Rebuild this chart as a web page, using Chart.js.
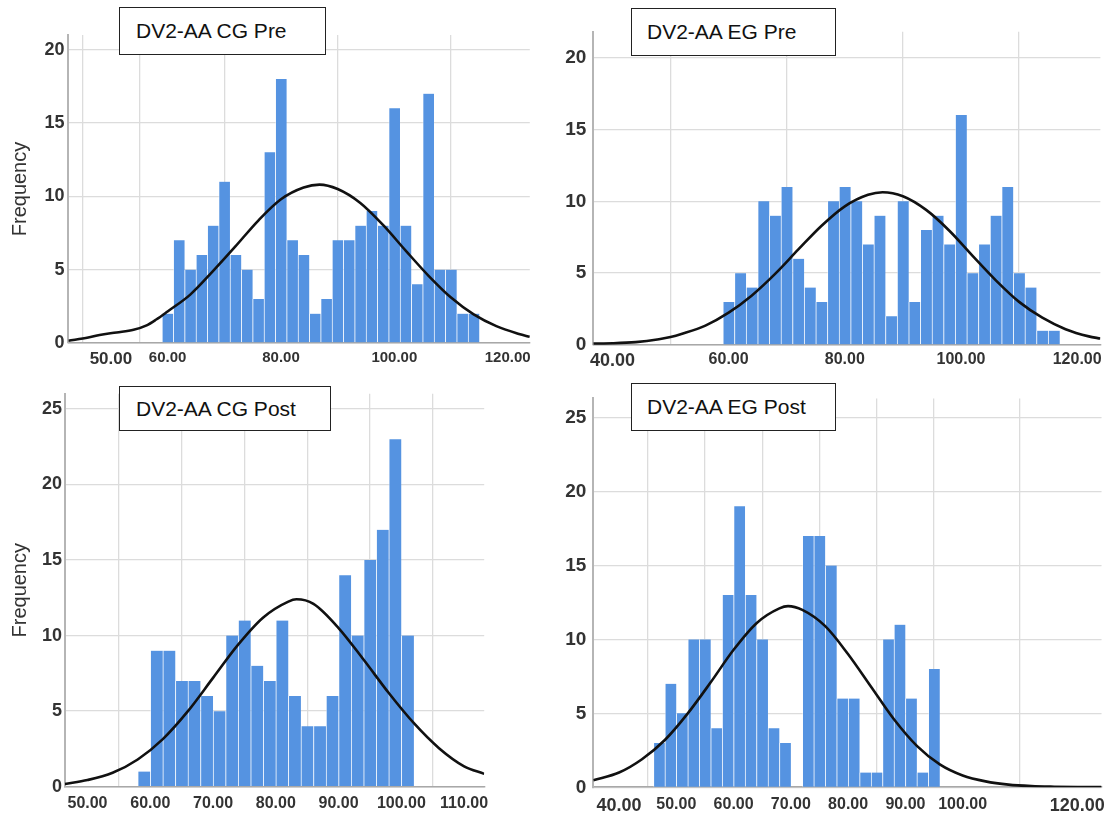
<!DOCTYPE html>
<html>
<head>
<meta charset="utf-8">
<title>DV2-AA histograms</title>
<script src="https://cdn.jsdelivr.net/npm/chart.js@4.4.1/dist/chart.umd.min.js"></script>
<style>
  body { margin:0; background:#fff; width:1113px; height:816px; overflow:hidden; position:relative;
         font-family:'Liberation Sans', Arial, sans-serif; }
  .panel { position:absolute; }
  .tag { position:absolute; background:#fff; border:1px solid #222; font-size:21px; color:#111;
         display:flex; align-items:center; box-sizing:border-box; z-index:2; white-space:nowrap; }
</style>
</head>
<body>
<div class="panel" style="left:0;top:0;width:545px;height:380px"><canvas id="cgPre"></canvas></div>
<div class="panel" style="left:556px;top:0;width:557px;height:380px"><canvas id="egPre"></canvas></div>
<div class="panel" style="left:0;top:380px;width:545px;height:436px"><canvas id="cgPost"></canvas></div>
<div class="panel" style="left:556px;top:380px;width:557px;height:436px"><canvas id="egPost"></canvas></div>

<div class="tag" style="left:119px;top:7px;width:207px;height:48px;padding-left:16px">DV2-AA CG Pre</div>
<div class="tag" style="left:631px;top:8px;width:205px;height:48px;padding-left:15px">DV2-AA EG Pre</div>
<div class="tag" style="left:119px;top:386px;width:212px;height:45px;padding-left:16px">DV2-AA CG Post</div>
<div class="tag" style="left:631px;top:383px;width:205px;height:48px;padding-left:15px">DV2-AA EG Post</div>

<script>
// bin centres (width 2) and frequencies
const cgPreBins   = [60,62,64,66,68,70,72,74,76,78,80,82,84,86,88,90,92,94,96,98,100,102,104,106,108,110,112,114];
const cgPreCounts = [2,7,5,6,8,11,6,5,3,13,18,7,6,2,3,7,7,8,9,8,16,8,4,17,5,5,2,2];

const egPreBins   = [60,62,64,66,68,70,72,74,76,78,80,82,84,86,88,90,92,94,96,98,100,102,104,106,108,110,112,114,116];
const egPreCounts = [3,5,4,10,9,11,6,4,3,10,11,10,7,9,2,10,3,8,9,7,16,5,7,9,11,5,4,1,1];

const cgPostBins   = [59,61,63,65,67,69,71,73,75,77,79,81,83,85,87,89,91,93,95,97,99,101];
const cgPostCounts = [1,9,9,7,7,6,5,10,11,8,7,11,6,4,4,6,14,10,15,17,23,10];

const egPostBins   = [47,49,51,53,55,57,59,61,63,65,67,69,71,73,75,77,79,81,83,85,87,89,91,93,95];
const egPostCounts = [3,7,5,10,10,4,13,19,13,10,4,3,0,17,17,15,6,6,1,1,10,11,6,1,8];

// normal curves, points
const cgPreCurveX = [42.5,46,48,51,54,56.3,58,60,64,68,72,76,80,84,86.8,90,94,98,102,106,110,114,118,122,123.9];
const cgPreCurveY = [0.15,0.37,0.55,0.72,0.9,1.2,1.6,2.15,3.3,4.9,6.6,8.35,9.8,10.6,10.8,10.5,9.55,8.05,6.3,4.6,3.1,1.95,1.15,0.62,0.42];

const egPreCurveX = [36.7,40,44,48,50,52,56,60,64,68,72,76,80,84,86.5,90,94,98,102,106,110,114,118,122,124];
const egPreCurveY = [0.1,0.12,0.2,0.4,0.55,0.78,1.35,2.25,3.45,4.95,6.65,8.3,9.65,10.45,10.63,10.35,9.4,7.95,6.2,4.5,3.0,1.9,1.1,0.6,0.45];

const cgPostCurveX = [46.4,50,54,58,62,66,70,74,78,82,83.3,86,90,94,98,102,106,110,113.2];
const cgPostCurveY = [0.18,0.44,0.92,1.8,3.15,5.0,7.2,9.4,11.2,12.25,12.4,12.1,10.5,8.4,6.2,4.2,2.55,1.35,0.85];

const egPostCurveX = [35.5,40,44,48,52,56,60,64,68,69.5,72,76,80,84,88,92,96,100,104,108,112,116,120,124.25];
const egPostCurveY = [0.47,1.0,1.9,3.2,5.0,7.1,9.3,11.1,12.1,12.25,12.0,10.9,9.0,6.8,4.6,2.8,1.55,0.8,0.4,0.18,0.08,0.04,0.02,0.01];

// tick labels
const cgPreXTicks  = [50,60,80,100,120];
const egPreXTicks  = [40,60,80,100,120];
const cgPostXTicks = [50,60,70,80,90,100,110];
const egPostXTicks = [40,50,60,70,80,90,100,120];
const preYTicks  = [0,5,10,15,20];
const postYTicks = [0,5,10,15,20,25];

const REG = "'Liberation Sans', Arial, sans-serif";
const BAR = '#5593e1';
const GRID = '#dcdcdc';

function makeChart(id, o) {
  new Chart(document.getElementById(id), {
    type: 'bar',
    data: {
      datasets: [{
        type: 'line',
        data: o.curveX.map((x, i) => ({x: x, y: o.curveY[i]})),
        borderColor: '#111',
        borderWidth: 2.6,
        pointRadius: 0,
        cubicInterpolationMode: 'monotone',
        fill: false,
        order: 0
      }, {
        type: 'bar',
        data: o.bins.map((x, i) => ({x: x, y: o.counts[i]})),
        backgroundColor: BAR,
        borderColor: 'rgba(255,255,255,0.45)',
        borderWidth: {left: 1, right: 0, top: 0, bottom: 0},
        borderSkipped: false,
        barPercentage: 1,
        categoryPercentage: 1,
        order: 1
      }]
    },
    options: {
      responsive: true,
      maintainAspectRatio: false,
      animation: false,
      layout: {padding: {top: o.padTop, right: o.padRight, left: 0, bottom: 0}},
      plugins: {legend: {display: false}, tooltip: {enabled: false}},
      scales: {
        x: {
          type: 'linear',
          offset: false,
          min: o.xMin, max: o.xMax,
          afterBuildTicks: s => { s.ticks = o.xTicks.map(v => ({value: v})); },
          afterFit: s => { s.height = o.xH; },
          grid: {color: GRID, lineWidth: 1.3, drawTicks: false},
          border: {display: true, color: '#a8a8a8', width: 1.6},
          ticks: {
            autoSkip: false, maxRotation: 0, padding: o.xPad, color: '#333',
            font: c => ({family: REG, weight: 'bold',
                         size: (o.bigX && o.bigX.includes(c.tick && c.tick.value)) ? o.xSize + 2 : o.xSize}),
            callback: v => Number(v).toFixed(2)
          }
        },
        y: {
          min: 0, max: o.yMax,
          afterBuildTicks: s => { s.ticks = o.yTicks.map(v => ({value: v})); },
          afterFit: s => { s.width = o.yW; },
          grid: {color: GRID, lineWidth: 1.3, drawTicks: false},
          border: {display: true, color: '#b5b5b5', width: 2},
          ticks: {
            padding: o.yPad, color: '#333',
            font: {family: REG, weight: 'bold', size: o.ySize}
          },
          title: {
            display: !!o.yTitle, text: o.yTitle || '', color: '#333',
            font: {family: REG, size: 20}, padding: {top: 8, bottom: 0}
          }
        }
      }
    }
  });
}

makeChart('cgPre', {
  bins: cgPreBins, counts: cgPreCounts, curveX: cgPreCurveX, curveY: cgPreCurveY,
  xTicks: cgPreXTicks, yTicks: preYTicks, xMin: 42.5, xMax: 123.9, yMax: 21,
  padTop: 35, padRight: 15.2, yW: 68.4, xH: 37, xPad: 6, yPad: 4,
  xSize: 15, ySize: 18, yTitle: 'Frequency', bigX: [50]
});
makeChart('egPre', {
  bins: egPreBins, counts: egPreCounts, curveX: egPreCurveX, curveY: egPreCurveY,
  xTicks: egPreXTicks, yTicks: preYTicks, xMin: 36.7, xMax: 124, yMax: 21.8,
  padTop: 31.7, padRight: 12.6, yW: 37.3, xH: 35, xPad: 5, yPad: 7,
  xSize: 16, ySize: 19, bigX: [40]
});
makeChart('cgPost', {
  bins: cgPostBins, counts: cgPostCounts, curveX: cgPostCurveX, curveY: cgPostCurveY,
  xTicks: cgPostXTicks, yTicks: postYTicks, xMin: 46.4, xMax: 113.2, yMax: 26,
  padTop: 11.7, padRight: 60.8, yW: 64.9, xH: 29.3, xPad: 7, yPad: 3,
  xSize: 16, ySize: 18, yTitle: 'Frequency'
});
makeChart('egPost', {
  bins: egPostBins, counts: egPostCounts, curveX: egPostCurveX, curveY: egPostCurveY,
  xTicks: egPostXTicks, yTicks: postYTicks, xMin: 35.5, xMax: 124.25, yMax: 26.3,
  padTop: 16.7, padRight: 5.6, yW: 37.3, xH: 28.7, xPad: 8, yPad: 7,
  xSize: 16, ySize: 19, bigX: [40, 120]
});
</script>
</body>
</html>
